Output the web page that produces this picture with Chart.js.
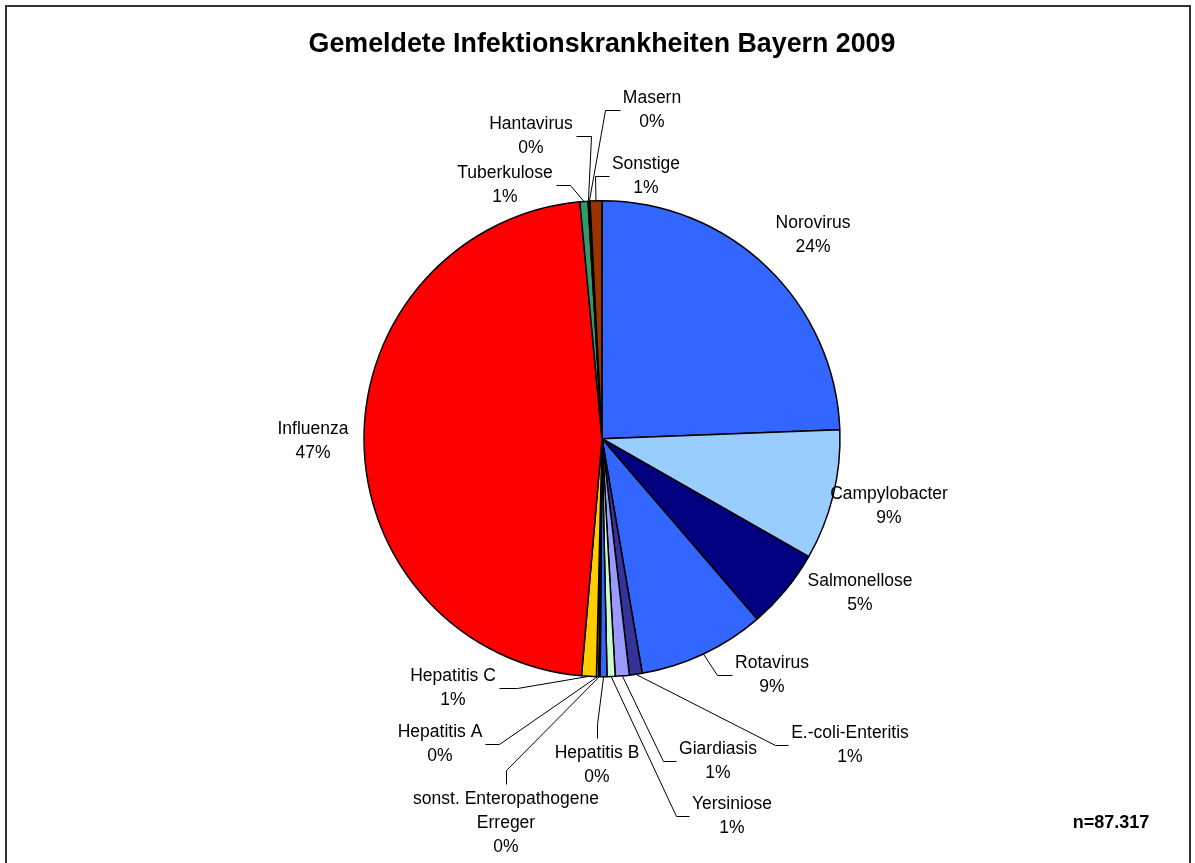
<!DOCTYPE html>
<html>
<head>
<meta charset="utf-8">
<title>Gemeldete Infektionskrankheiten Bayern 2009</title>
<script src="https://cdn.jsdelivr.net/npm/chart.js@4.4.1/dist/chart.umd.min.js"></script>
<style>
  html, body { margin: 0; padding: 0; background: #fff; }
  #wrap { position: relative; width: 1195px; height: 863px; overflow: hidden; }
  #frame { position: absolute; left: 5px; top: 5px; width: 1186px; height: 880px;
           border: 2px solid #333; box-sizing: border-box; pointer-events: none; }
</style>
</head>
<body>
<div id="wrap">
  <canvas id="chart" width="1195" height="863"></canvas>
  <div id="frame"></div>
</div>
<script>
// data, clockwise from 12 o'clock
const categories = [
  'Norovirus', 'Campylobacter', 'Salmonellose', 'Rotavirus', 'E.-coli-Enteritis',
  'Giardiasis', 'Yersiniose', 'Hepatitis B', ['sonst. Enteropathogene', 'Erreger'],
  'Hepatitis A', 'Hepatitis C', 'Influenza', 'Tuberkulose', 'Hantavirus', 'Masern', 'Sonstige'
];
const cases = [
  21300, 7736, 4750, 7509, 760,
  830, 480, 400, 90,
  130, 873, 41164, 480, 45, 70, 700
];
const sliceColors = [
  '#3366FF', '#99CCFF', '#000080', '#3366FF', '#333399',
  '#9999FF', '#CCFFCC', '#3366FF', '#333333',
  '#FF9900', '#FFCC00', '#FF0000', '#339966', '#003300', '#666699', '#993300'
];

// where each data label sits, relative to the pie centre (px),
// and which side of the label the leader line leaves from
const labelLayout = [
  { dx: 211, dy: -216 }, { dx: 287, dy: 55 }, { dx: 258, dy: 142 },
  { dx: 170, dy: 224, side: 'left', ext: 15 },
  { dx: 248, dy: 294, side: 'left', ext: 13 },
  { dx: 116, dy: 310, side: 'left', ext: 13 },
  { dx: 130, dy: 365, side: 'left', ext: 13 },
  { dx: -5, dy: 314, side: 'top', ext: 14 },
  { dx: -96, dy: 360, side: 'top', ext: 14 },
  { dx: -162, dy: 293, side: 'right', ext: 14 },
  { dx: -149, dy: 237, side: 'right', ext: 18 },
  { dx: -289, dy: -10 },
  { dx: -97, dy: -266, side: 'right', ext: 14 },
  { dx: -71, dy: -315, side: 'right', ext: 15 },
  { dx: 50, dy: -341, side: 'left', ext: 15 },
  { dx: 44, dy: -275, side: 'left', ext: 14 }
];

const FONT = '"Liberation Sans", Arial, sans-serif';
const LINE = 24;
const total = cases.reduce((a, b) => a + b, 0);

function germanInt(n) {
  return String(n).replace(/\B(?=(\d{3})+(?!\d))/g, '.');
}

const sliceLabels = {
  id: 'sliceLabels',
  afterDatasetsDraw(chart) {
    const ctx = chart.ctx;
    const meta = chart.getDatasetMeta(0);
    ctx.save();
    ctx.font = '17.5px ' + FONT;
    ctx.fillStyle = '#000';
    ctx.strokeStyle = '#000';
    ctx.lineWidth = 1;
    ctx.textAlign = 'center';
    ctx.textBaseline = 'middle';
    meta.data.forEach((arc, i) => {
      const p = arc.getProps(['x', 'y', 'startAngle', 'endAngle', 'outerRadius'], true);
      const mid = (p.startAngle + p.endAngle) / 2;
      const ax = p.x + Math.cos(mid) * p.outerRadius;
      const ay = p.y + Math.sin(mid) * p.outerRadius;
      const name = categories[i];
      const lines = (Array.isArray(name) ? name : [name])
        .concat(Math.round(cases[i] / total * 100) + '%');
      const lay = labelLayout[i];
      const lx = p.x + lay.dx, ly = p.y + lay.dy;
      const w = Math.max(...lines.map(t => ctx.measureText(t).width));
      lines.forEach((t, k) => ctx.fillText(t, lx, ly + k * LINE));
      if (!lay.side) return;
      const h = (lines.length - 1) * LINE;
      let sx, sy, ex, ey;
      if (lay.side === 'left') { sx = lx - w / 2 - 3; sy = ly + h / 2; ex = sx - lay.ext; ey = sy; }
      else if (lay.side === 'right') { sx = lx + w / 2 + 3; sy = ly + h / 2; ex = sx + lay.ext; ey = sy; }
      else { sx = lx; sy = ly - 15; ex = sx; ey = sy - lay.ext; }
      ctx.beginPath();
      ctx.moveTo(Math.round(sx) + 0.5, Math.round(sy) + 0.5);
      ctx.lineTo(Math.round(ex) + 0.5, Math.round(ey) + 0.5);
      ctx.lineTo(ax, ay);
      ctx.stroke();
    });
    // sample size note
    ctx.font = 'bold 18px ' + FONT;
    ctx.fillText('n=' + germanInt(total), 1111, 823);
    ctx.restore();
  }
};

new Chart(document.getElementById('chart'), {
  type: 'pie',
  data: {
    labels: categories,
    datasets: [{
      data: cases,
      backgroundColor: sliceColors,
      borderColor: '#000',
      borderWidth: 1.5
    }]
  },
  options: {
    responsive: false,
    animation: false,
    radius: 238,
    layout: { padding: { left: 9, right: 0, top: 0, bottom: 56.6 } },
    plugins: {
      legend: { display: false },
      tooltip: { enabled: false },
      title: {
        display: true,
        text: 'Gemeldete Infektionskrankheiten Bayern 2009',
        color: '#000',
        font: { family: FONT, size: 26.8, weight: 'bold' },
        padding: { top: 28.9, bottom: 10 }
      }
    }
  },
  plugins: [sliceLabels]
});
</script>
</body>
</html>
